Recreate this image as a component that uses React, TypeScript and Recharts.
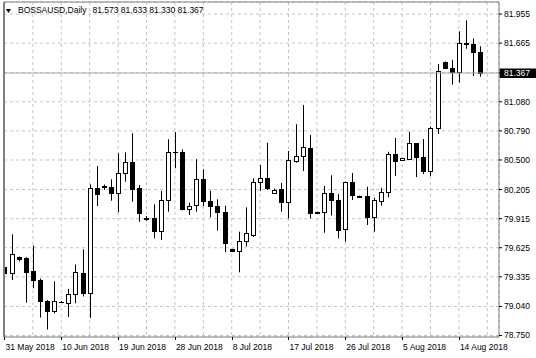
import React from 'react';
import { ComposedChart, Bar, XAxis, YAxis, CartesianGrid, ReferenceLine } from 'recharts';

// daily OHLC, one entry per bar (31 May 2018 .. 17 Aug 2018)
const opens = [
  79.433, 79.376, 79.536, 79.520, 79.393, 79.303, 79.094, 78.997, 79.084, 79.071,
  79.161, 79.376, 79.171, 80.225, 80.245, 80.233, 80.174, 80.367, 80.477, 80.217,
  79.921, 79.918, 79.795, 80.101, 80.582, 80.582, 80.008, 80.051, 80.310, 80.094,
  80.044, 79.978, 79.612, 79.595, 79.697, 79.752, 80.277, 80.323, 80.171, 80.210,
  80.084, 80.493, 80.542, 80.624, 79.978, 79.981, 80.168, 80.101, 79.807, 80.283,
  80.138, 80.141, 79.934, 80.091, 80.184, 80.556, 80.500, 80.507, 80.666, 80.527,
  80.390, 80.822, 81.477, 81.414, 81.374, 81.666, 81.656, 81.573,
];
const highs = [
  79.553, 79.759, 79.538, 79.530, 79.647, 79.318, 79.104, 79.290, 79.094, 79.214,
  79.458, 79.609, 80.257, 80.440, 80.255, 80.307, 80.566, 80.576, 80.766, 80.250,
  79.941, 80.058, 80.191, 80.706, 80.779, 80.606, 80.074, 80.507, 80.407, 80.194,
  80.108, 80.044, 79.615, 79.785, 80.028, 80.317, 80.450, 80.672, 80.215, 80.270,
  80.589, 80.856, 81.048, 80.749, 79.986, 80.240, 80.347, 80.161, 80.285, 80.370,
  80.144, 80.233, 80.124, 80.223, 80.582, 80.719, 80.523, 80.782, 80.669, 80.709,
  80.834, 81.457, 81.482, 81.499, 81.783, 81.892, 81.713, 81.633,
];
const lows = [
  79.154, 79.303, 79.488, 79.077, 79.221, 78.929, 78.810, 78.971, 79.074, 78.934,
  79.071, 79.139, 78.925, 80.041, 80.201, 80.094, 79.978, 80.283, 80.084, 79.884,
  79.891, 79.719, 79.702, 79.984, 80.417, 79.998, 79.951, 79.984, 80.038, 79.928,
  79.795, 79.582, 79.582, 79.380, 79.637, 79.732, 80.191, 80.201, 80.161, 79.984,
  79.918, 80.473, 80.390, 79.918, 79.966, 79.775, 79.946, 79.719, 79.685, 80.101,
  80.124, 79.852, 79.785, 80.044, 80.128, 80.340, 80.493, 80.505, 80.330, 80.360,
  80.340, 80.759, 81.410, 81.252, 81.272, 81.609, 81.337, 81.330,
];
const closes = [
  79.373, 79.560, 79.513, 79.388, 79.303, 79.089, 78.994, 79.097, 79.081, 79.161,
  79.383, 79.169, 80.225, 80.161, 80.230, 80.174, 80.367, 80.477, 80.210, 79.968,
  79.916, 79.795, 80.101, 80.582, 80.579, 80.008, 80.044, 80.310, 80.094, 80.044,
  79.978, 79.669, 79.597, 79.695, 79.769, 80.283, 80.323, 80.220, 80.204, 80.081,
  80.500, 80.542, 80.626, 79.976, 79.976, 80.168, 80.101, 79.799, 80.280, 80.151,
  80.131, 79.936, 80.101, 80.184, 80.562, 80.493, 80.517, 80.666, 80.530, 80.393,
  80.819, 81.384, 81.414, 81.374, 81.669, 81.656, 81.579, 81.367,
];

const dateLabels = ['31 May 2018', '10 Jun 2018', '19 Jun 2018', '28 Jun 2018', '8 Jul 2018', '17 Jul 2018', '26 Jul 2018', '5 Aug 2018', '14 Aug 2018'];
const barTicks = [0, 4, 8, 12, 16, 20, 24, 28, 32, 36, 40, 44, 48, 52, 56, 60, 64, 68];
const priceTicks = [78.75, 79.04, 79.335, 79.625, 79.915, 80.205, 80.5, 80.79, 81.08, 81.37, 81.665, 81.955];
const lastPrice = 81.367;
const headerText = 'BOSSAUSD,Daily';
const headerValues = '81.573 81.633 81.330 81.367';

const data = opens.map((open, i) => ({ i, open, high: highs[i], low: lows[i], close: closes[i] }));

const X_MIN = -0.07;
const X_MAX = 69.65;
const Y_MIN = 78.735;
const Y_MAX = 82.075;
const FONT = '"Liberation Sans", Arial, sans-serif';
const FRAME = '#808080';

function Candle(props: any) {
  const { x, y, width, height, payload } = props;
  if (x == null || !payload) return null;
  const { open, close, high, low } = payload;
  const range = high - low || 1e-9;
  const toY = (v: number) => y + ((high - v) / range) * height;
  const c = Math.round(x + width / 2);
  const top = Math.round(toY(Math.max(open, close)));
  const bottom = Math.round(toY(Math.min(open, close)));
  const bull = close >= open;
  return (
    <g>
      <line x1={c + 0.5} x2={c + 0.5} y1={y} y2={y + height} stroke="#000" />
      {bottom - top < 1 ? (
        <line x1={c - 2} x2={c + 3} y1={top + 0.5} y2={top + 0.5} stroke="#000" />
      ) : (
        <rect x={c - 1.5} y={top + 0.5} width={4} height={bottom - top} fill={bull ? '#fff' : '#000'} stroke="#000" />
      )}
    </g>
  );
}

function DateTick(props: any) {
  const { x, y, payload } = props;
  if (payload.value % 8 !== 0) return null;
  const label = dateLabels[payload.value / 8];
  return (
    <g>
      <line x1={Math.round(x) + 0.5} x2={Math.round(x) + 0.5} y1={y} y2={y + 3} stroke="#000" />
      <text x={x + 1} y={y + 12.5} textAnchor="start" fontSize={8.5} fontFamily={FONT} fill="#000">{label}</text>
    </g>
  );
}

function PriceTick(props: any) {
  const { x, y, payload } = props;
  if (payload.value === 81.37) return null;
  return (
    <text x={x} y={y + 3} textAnchor="start" fontSize={8.5} fontFamily={FONT} fill="#000">
      {payload.value.toFixed(3)}
    </text>
  );
}

function PriceLabel(props: any) {
  const { viewBox } = props;
  if (!viewBox) return null;
  const right = viewBox.x + viewBox.width;
  const cy = viewBox.y;
  return (
    <g>
      <rect x={right + 0.5} y={cy - 4.5} width={37} height={9.5} fill="#000" />
      <text x={right + 5} y={cy + 3} fontSize={8.5} fontFamily={FONT} fill="#fff">{lastPrice.toFixed(3)}</text>
    </g>
  );
}

export default function App() {
  return (
    <div style={{ position: 'fixed', left: 0, top: 0, width: 536, height: 358, background: '#fff' }}>
      <ComposedChart width={536} height={358} data={data} margin={{ top: 2, right: 0, left: 4, bottom: 0 }}>
        <CartesianGrid stroke="#c4c4c4" strokeDasharray="3 3" />
        <XAxis
          dataKey="i"
          type="number"
          domain={[X_MIN, X_MAX]}
          allowDataOverflow
          ticks={barTicks}
          interval={0}
          height={21}
          axisLine={{ stroke: FRAME }}
          tickLine={false}
          tickSize={0}
          tickMargin={0}
          tick={<DateTick />}
        />
        <YAxis
          orientation="right"
          type="number"
          domain={[Y_MIN, Y_MAX]}
          allowDataOverflow
          ticks={priceTicks}
          interval={0}
          width={37}
          axisLine={{ stroke: FRAME }}
          tickLine={{ stroke: '#000' }}
          tickSize={3}
          tickMargin={2}
          tick={<PriceTick />}
        />
        <ReferenceLine y={lastPrice} stroke="#a8a8a8" label={<PriceLabel />} />
        <Bar
          dataKey={(d: any) => [d.low, d.high]}
          barSize={5}
          isAnimationActive={false}
          shape={(p: any) => <Candle {...p} />}
        />
        <ReferenceLine x={X_MIN} stroke={FRAME} strokeWidth={2} />
        <ReferenceLine y={Y_MAX} stroke={FRAME} />
      </ComposedChart>
      <div
        style={{
          position: 'absolute', left: 6, top: 5, display: 'flex', alignItems: 'baseline',
          fontFamily: FONT, fontSize: 8.5, lineHeight: '11px', color: '#000', whiteSpace: 'pre',
        }}
      >
        <svg width={5} height={4} style={{ marginRight: 7 }}>
          <polygon points="0,0 5,0 2.5,4" fill="#000" />
        </svg>
        <span>{headerText}</span>
        <span style={{ marginLeft: 6 }}>{headerValues}</span>
      </div>
    </div>
  );
}
